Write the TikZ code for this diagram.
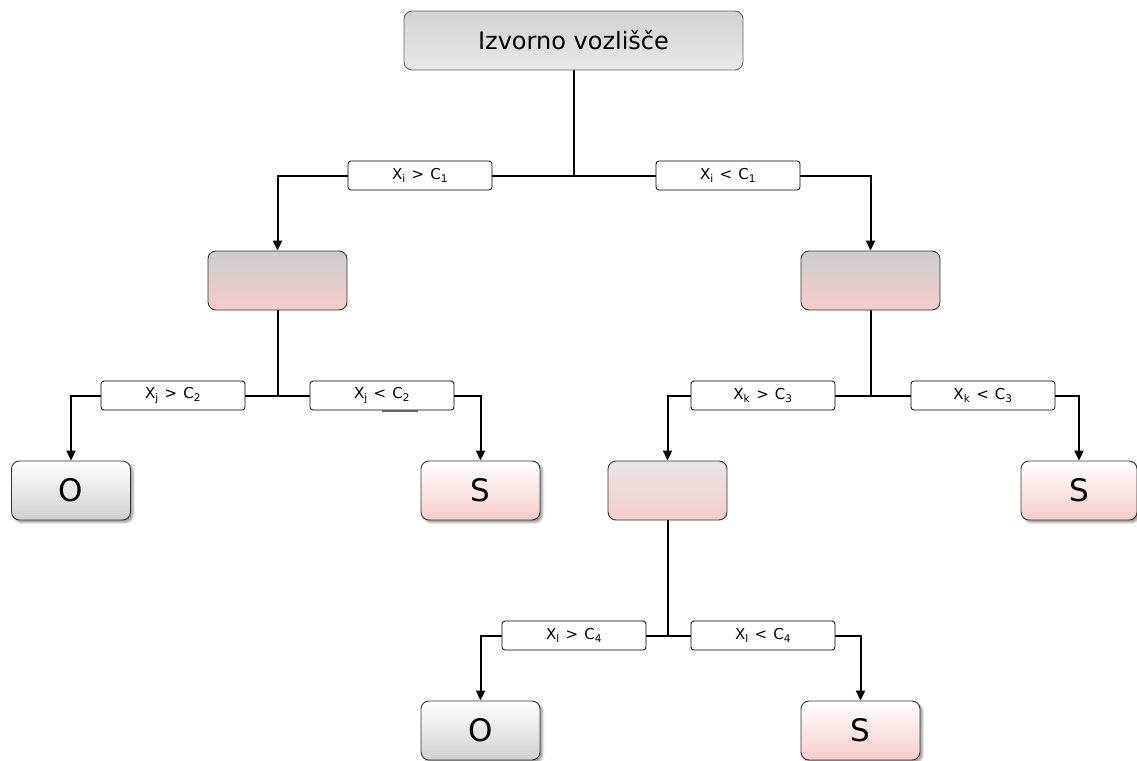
\documentclass[tikz,border=0pt]{standalone}
\usepackage{fontspec}
\setmainfont{DejaVu Sans}
\usetikzlibrary{arrows.meta,shadows.blur}
\definecolor{rootTop}{HTML}{D2D2D2}
\definecolor{rootBot}{HTML}{E8E8E8}
\definecolor{grayTop}{HTML}{CCCCCC}
\definecolor{midTop}{HTML}{E6E6E6}
\definecolor{pinkBot}{HTML}{F6CCCB}
\definecolor{leafGray}{HTML}{D0D0D0}
\definecolor{borderC}{HTML}{333333}
\tikzset{
  box/.style={draw=borderC, line width=0.9pt, rounded corners=8pt, inner sep=0pt},
  rootbox/.style={box, draw=black!60, top color=rootTop, bottom color=rootBot,
    minimum width=339pt, minimum height=59pt, font=\fontsize{24}{28}\selectfont},
  innerbox/.style={box, top color=grayTop, bottom color=pinkBot,
    minimum width=139pt, minimum height=59pt},
  midbox/.style={box, top color=midTop, bottom color=pinkBot,
    minimum width=119pt, minimum height=59pt},
  leafO/.style={box, top color=white, bottom color=leafGray,
    minimum width=119pt, minimum height=59pt, font=\fontsize{31}{35}\selectfont,
    blur shadow={shadow xshift=2.5pt, shadow yshift=-2.5pt, shadow blur steps=4, shadow opacity=40}},
  leafS/.style={box, top color=white, bottom color=pinkBot,
    minimum width=119pt, minimum height=59pt, font=\fontsize{31}{35}\selectfont,
    blur shadow={shadow xshift=2.5pt, shadow yshift=-2.5pt, shadow blur steps=4, shadow opacity=40}},
  condbox/.style={draw=black, fill=white, line width=0.8pt, rounded corners=3pt,
    minimum width=144pt, minimum height=29pt, inner sep=0pt, font=\fontsize{15}{17}\selectfont},
  conn/.style={line width=2pt, black},
  arr/.style={conn, -{Triangle[length=10pt,width=9pt]}},
}
\newcommand{\cond}[3]{X\textsubscript{#1}\kern6pt#2\kern6pt C\textsubscript{#3}}
\begin{document}
\begin{tikzpicture}[x=1pt,y=-1pt]
\useasboundingbox (0,0) rectangle (1137,760);
% main nodes
\node[rootbox] (root) at (573.5,40.5) {Izvorno vozlišče};
\node[innerbox] (L1) at (277.5,280.5) {};
\node[innerbox] (R1) at (870.5,280.5) {};
\node[leafO] (LL) at (71,490.5) {O};
\node[leafS] (LR) at (480.5,490.5) {S};
\node[midbox] (RL) at (667.5,490.5) {};
\node[leafS, minimum width=116pt] (RR) at (1079,490.5) {S};
\node[leafO] (BL) at (480.5,730.5) {O};
\node[leafS] (BR) at (860.5,730.5) {S};
% junctions
\coordinate (j1) at (root.south |- 0,176);
\coordinate (j2) at (L1.south |- 0,396);
\coordinate (j3) at (R1.south |- 0,396);
\coordinate (j4) at (RL.south |- 0,636);
% connectors
\draw[conn] (root.south) -- (j1);
\draw[arr] (j1) -| (L1.north);
\draw[arr] (j1) -| (R1.north);
\draw[conn] (L1.south) -- (j2);
\draw[arr] (j2) -| (LL.north);
\draw[arr] (j2) -| (LR.north);
\draw[conn] (R1.south) -- (j3);
\draw[arr] (j3) -| (RL.north);
\draw[arr] (j3) -| (RR.north);
\draw[conn] (RL.south) -- (j4);
\draw[arr] (j4) -| (BL.north);
\draw[arr] (j4) -| (BR.north);
% condition labels
\node[condbox] (c1) at (420,175.5) {\cond{i}{>}{1}};
\node[condbox] (c2) at (728,175.5) {\cond{i}{<}{1}};
\node[condbox] (c3) at (173,395.5) {\cond{j}{>}{2}};
\node[condbox] (c4) at (382,395.5) {\cond{j}{<}{2}};
\node[condbox] (c5) at (763,395.5) {\cond{k}{>}{3}};
\node[condbox] (c6) at (983,395.5) {\cond{k}{<}{3}};
\node[condbox] (c7) at (574,635.5) {\cond{l}{>}{4}};
\node[condbox] (c8) at (763,635.5) {\cond{l}{<}{4}};
% stray mark under C2
\draw[black!60, line width=1.5pt] (382,411) -- (418,411);
\end{tikzpicture}
\end{document}
